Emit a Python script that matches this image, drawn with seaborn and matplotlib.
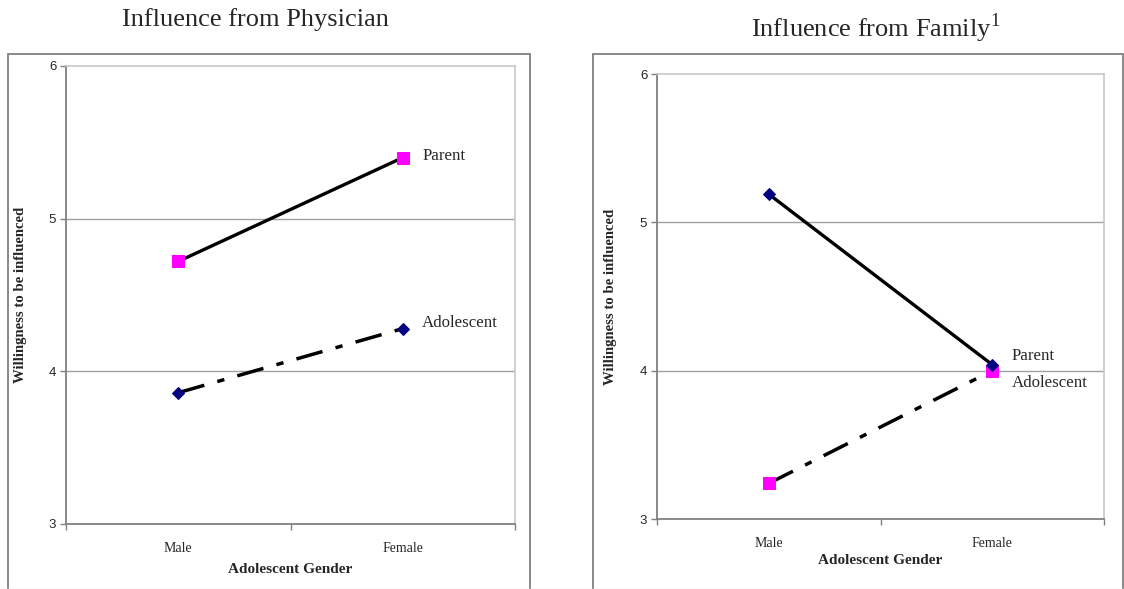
import matplotlib
matplotlib.use("Agg")
import matplotlib.pyplot as plt
from matplotlib.patches import Rectangle
import seaborn as sns
import pandas as pd

# ---- data ----
categories = ["Male", "Female"]
phys_parent = [4.72, 5.40]
phys_adolescent = [3.86, 4.28]
fam_parent = [5.19, 4.04]
fam_adolescent = [3.24, 4.00]
y_ticks = [3, 4, 5, 6]

sns.set_theme(style="white")
plt.rcParams["font.family"] = ["Liberation Serif", "DejaVu Serif"]
plt.rcParams["mathtext.fontset"] = "custom"
plt.rcParams["mathtext.rm"] = "Liberation Serif"

fig = plt.figure(figsize=(11.24, 5.89), dpi=100)

# outer frames (bottom edge runs off the image)
for (x0, w) in [(8, 522), (593, 530)]:
    fig.patches.append(Rectangle((x0 / 1124, -4 / 589), w / 1124, 539 / 589,
                                 transform=fig.transFigure, fill=False,
                                 edgecolor="#808080", linewidth=1.3))
fig.patches.append(Rectangle((0, 0.5 / 589), 1, 0, transform=fig.transFigure,
                             fill=False, edgecolor="#e4e4e4", linewidth=1))

ax1 = fig.add_axes([66 / 1124, 1 - 524 / 589, 449 / 1124, 458 / 589])
ax2 = fig.add_axes([657 / 1124, 1 - 519 / 589, 447 / 1124, 445 / 589])

SQ = dict(marker="s", markersize=8.5, markerfacecolor="#FF00FF", markeredgecolor="#FF00FF")
DI = dict(marker="D", markersize=6.5, markerfacecolor="#000080", markeredgecolor="#000080")
SOLID = dict(linestyle="-")
DASHDOT = dict(linestyle=(0, (7.8, 3.9, 2.1, 3.9)))


def draw(ax, parent, adol, parent_mk, adol_mk, xlabel_y, ylabel_x):
    xs = list(range(len(categories)))
    df_p = pd.DataFrame({"x": xs, "y": parent})
    df_a = pd.DataFrame({"x": xs, "y": adol})
    sns.lineplot(data=df_a, x="x", y="y", ax=ax, color="black", linewidth=2.5,
                 **DASHDOT, **adol_mk, zorder=3)
    sns.lineplot(data=df_p, x="x", y="y", ax=ax, color="black", linewidth=2.4,
                 **SOLID, **parent_mk, zorder=4)
    ax.set_xlim(-0.5, len(categories) - 0.5)
    ax.set_ylim(y_ticks[0], y_ticks[-1])
    ax.set_yticks(y_ticks)
    ax.set_yticklabels([str(t) for t in y_ticks], family="Liberation Sans", fontsize=9.5)
    ax.set_xticks([-0.5, 0.5, 1.5])
    ax.set_xticklabels([])
    ax.set_xticks(xs, minor=True)
    ax.set_xticklabels(categories, minor=True, fontsize=10)
    ax.tick_params(axis="x", which="minor", length=0, pad=13)
    ax.tick_params(axis="x", which="major", length=4, width=1, color="#808080", direction="out", bottom=True)
    ax.tick_params(axis="y", length=4, width=1, color="#808080", direction="out", left=True, pad=3)
    for yv in y_ticks[1:-1]:
        ax.axhline(yv, color="#a0a0a0", linewidth=1, zorder=1)
    for s in ["left", "bottom"]:
        ax.spines[s].set_color("#808080")
        ax.spines[s].set_linewidth(1.3)
    for s in ["top", "right"]:
        ax.spines[s].set_color("#c8c8c8")
        ax.spines[s].set_linewidth(1.2)
    ax.set_xlabel("Adolescent Gender", fontsize=11, fontweight="bold")
    ax.set_ylabel("Willingness to be influenced", fontsize=10.6, fontweight="bold")
    ax.xaxis.label.set_va("center")
    ax.yaxis.label.set_va("center")
    ax.xaxis.set_label_coords(0.5, xlabel_y)
    ax.yaxis.set_label_coords(ylabel_x, 0.5)
    ax.grid(False)


draw(ax1, phys_parent, phys_adolescent, SQ, DI, -0.10, -0.102)
draw(ax2, fam_parent, fam_adolescent, DI, SQ, -0.094, -0.105)

ax1.annotate("Parent", (1, phys_parent[1]), xytext=(14, 1), textcoords="offset points",
             ha="left", va="center", fontsize=12.2)
ax1.annotate("Adolescent", (1, phys_adolescent[1]), xytext=(14, 4), textcoords="offset points",
             ha="left", va="center", fontsize=12.2)
ax2.annotate("Parent", (1, fam_parent[1]), xytext=(14, 6), textcoords="offset points",
             ha="left", va="center", fontsize=12.2)
ax2.annotate("Adolescent", (1, fam_adolescent[1]), xytext=(14, -9), textcoords="offset points",
             ha="left", va="center", fontsize=12.2)

fig.text(255 / 1124, 1 - 20 / 589, "Influence from Physician", ha="center", va="center", fontsize=19)
fig.text(876 / 1124, 1 - 28 / 589, "Influence from Family$^{1}$", ha="center", va="center", fontsize=19)

fig.savefig("out.png", dpi=100)
